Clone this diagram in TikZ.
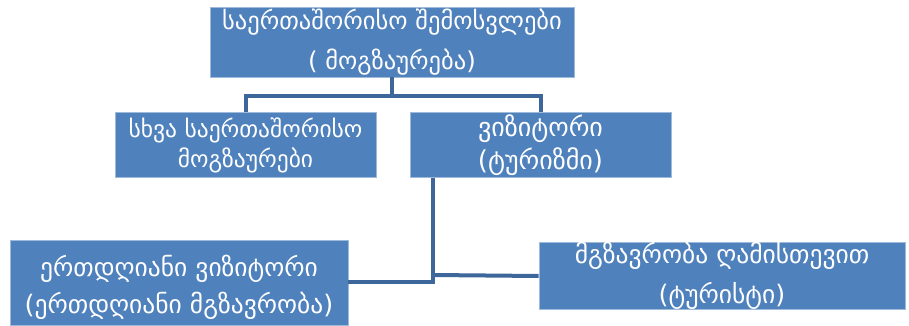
\documentclass[tikz,border=0pt]{standalone}
\usepackage{fontspec}
\setmainfont{DejaVu Sans}
\definecolor{boxblue}{HTML}{4F81BD}
\definecolor{lineblue}{HTML}{3D669A}
\begin{document}
\begin{tikzpicture}[x=1pt,y=-1pt,
  box/.style={rectangle,fill=boxblue,draw=boxblue!55!white,line width=0.8pt,
    text=white,align=center,inner sep=0pt},
  conn/.style={draw=lineblue,line width=4pt}]
\useasboundingbox (0,0) rectangle (909,326);
\node[box,minimum width=364pt,minimum height=70pt,font=\fontsize{24.5}{40}\selectfont] (top) at (392,42)
  {საერთაშორისო შემოსვლები\\( მოგზაურება)};
\node[box,minimum width=261pt,minimum height=65pt,font=\fontsize{23.5}{30}\selectfont] (ml) at (245.5,145)
  {სხვა საერთაშორისო\\მოგზაურები};
\node[box,minimum width=261pt,minimum height=65pt,font=\fontsize{26}{33}\selectfont] (mr) at (540.5,145)
  {ვიზიტორი\\(ტურიზმი)};
\node[box,minimum width=338pt,minimum height=85pt] (bl) at (179,282.5) {};
\node[text=white,align=center,inner sep=0pt,font=\fontsize{25.5}{37}\selectfont] (blt) at (179,287.5)
  {ერთდღიანი ვიზიტორი\\(ერთდღიანი მგზავრობა)};
\node[box,minimum width=366pt,minimum height=64pt,font=\fontsize{25.5}{40}\selectfont] (br) at (722,276)
  {მგზავრობა ღამისთევით\\(ტურისტი)};
\coordinate (j1) at (392,96);
\coordinate (j2) at (433,282);
\coordinate (j3) at (433,275);
\draw[conn] (top.south) -- (j1);
\draw[conn] (ml.north) |- (j1);
\draw[conn] (mr.north) |- (j1);
\draw[conn] (mr.south -| j2) -- (j2) -- (j2 -| bl.east);
\draw[conn] (j3) -- (br.west);
\end{tikzpicture}
\end{document}
